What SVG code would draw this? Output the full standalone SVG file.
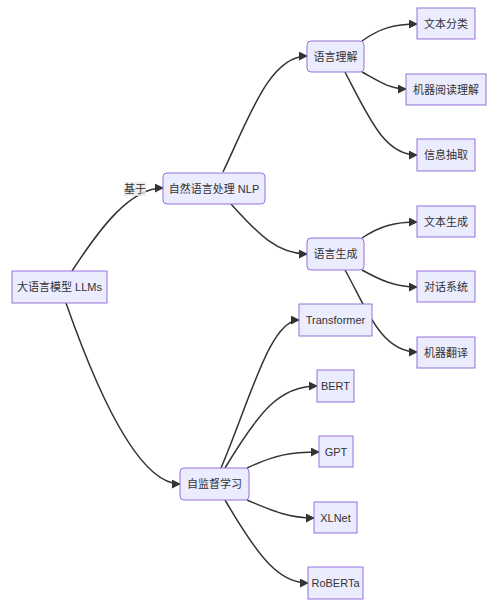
<svg xmlns="http://www.w3.org/2000/svg" width="500" height="611" viewBox="0 0 500 611">
<style>
.n{fill:#ECECFF;stroke:#9370DB;stroke-width:1}
.t{font-family:"Liberation Sans","Noto Sans CJK SC",sans-serif;font-size:11px;fill:#333;text-anchor:middle;dominant-baseline:central}
.e{fill:none;stroke:#333;stroke-width:1.5;marker-end:url(#arr)}
</style>
<defs>
<marker id="arr" viewBox="0 0 10 10" refX="9" refY="5" markerUnits="userSpaceOnUse" markerWidth="9" markerHeight="9" orient="auto">
<path d="M0,0 L10,5 L0,10 z" fill="#333"/>
</marker>
</defs>
<rect width="500" height="611" fill="#fff"/>
<g id="edges">
<path class="e" d="M72,271 C100,228 130,188 163,188"/>
<path class="e" d="M66,303 C100,400 140,484 180,484"/>
<path class="e" d="M223,172 C250,115 270,56 307,56"/>
<path class="e" d="M231,204 C255,230 275,254 307,254"/>
<path class="e" d="M362,41 C380,28 395,24 417,24"/>
<path class="e" d="M362,72 C380,82 390,89 406,89"/>
<path class="e" d="M345,72 C370,120 385,155 417,155"/>
<path class="e" d="M362,238 C380,226 395,222 417,222"/>
<path class="e" d="M362,270 C380,280 395,287 417,287"/>
<path class="e" d="M345,270 C365,305 380,352 417,352"/>
<path class="e" d="M221,468 C250,400 270,320 299,320"/>
<path class="e" d="M225,468 C260,410 280,386 317,386"/>
<path class="e" d="M247,468 C275,455 290,452 319,452"/>
<path class="e" d="M247,500 C275,512 290,518 314,518"/>
<path class="e" d="M225,500 C260,560 280,583 308,583"/>
<g id="label-jiyu">
<rect x="124" y="182" width="22" height="14" fill="#E8E8E8" opacity="0.8"/>
<text class="t" x="135" y="189">基于</text>
</g>
</g>
<g id="n-root"><rect class="n" x="12" y="271" width="95" height="32"/><text class="t" x="59.5" y="287">大语言模型 LLMs</text></g>
<g id="n-nlp"><rect class="n" x="163" y="173" width="102" height="31" rx="4"/><text class="t" x="214" y="188.5">自然语言处理 NLP</text></g>
<g id="n-nlu"><rect class="n" x="307" y="41" width="57" height="31" rx="4"/><text class="t" x="335.5" y="56.5">语言理解</text></g>
<g id="n-nlg"><rect class="n" x="307" y="238" width="57" height="32" rx="4"/><text class="t" x="335.5" y="254">语言生成</text></g>
<g id="n-ssl"><rect class="n" x="180" y="468" width="69" height="32" rx="4"/><text class="t" x="214.5" y="484">自监督学习</text></g>
<g id="n-cls"><rect class="n" x="417" y="8" width="58" height="31"/><text class="t" x="446" y="23.5">文本分类</text></g>
<g id="n-mrc"><rect class="n" x="406" y="74" width="80" height="31"/><text class="t" x="446" y="89.5">机器阅读理解</text></g>
<g id="n-ie"><rect class="n" x="417" y="139" width="58" height="32"/><text class="t" x="446" y="155">信息抽取</text></g>
<g id="n-tg"><rect class="n" x="417" y="206" width="58" height="31"/><text class="t" x="446" y="221.5">文本生成</text></g>
<g id="n-ds"><rect class="n" x="417" y="271" width="58" height="31"/><text class="t" x="446" y="286.5">对话系统</text></g>
<g id="n-mt"><rect class="n" x="417" y="337" width="58" height="31"/><text class="t" x="446" y="352.5">机器翻译</text></g>
<g id="n-tf"><rect class="n" x="299" y="304" width="73" height="32"/><text class="t" x="335.5" y="320">Transformer</text></g>
<g id="n-bert"><rect class="n" x="317" y="370" width="37" height="32"/><text class="t" x="335.5" y="386">BERT</text></g>
<g id="n-gpt"><rect class="n" x="319" y="436" width="34" height="31"/><text class="t" x="336" y="451.5">GPT</text></g>
<g id="n-xlnet"><rect class="n" x="314" y="502" width="43" height="31"/><text class="t" x="335.5" y="517.5">XLNet</text></g>
<g id="n-roberta"><rect class="n" x="308" y="567" width="55" height="32"/><text class="t" x="335.5" y="583">RoBERTa</text></g>
</svg>
